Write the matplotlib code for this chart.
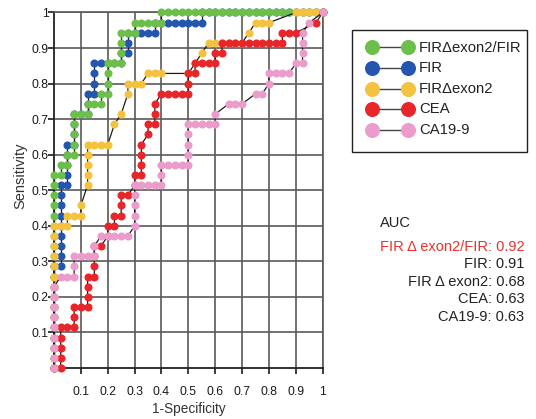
import matplotlib
matplotlib.use('Agg')
import matplotlib.pyplot as plt
import numpy as np
from matplotlib.lines import Line2D
from matplotlib.patches import Rectangle

plt.rcParams['font.family'] = ['Liberation Sans', 'DejaVu Sans']

# ---------------- data ----------------
N_POS = 35   # positives (sensitivity steps)
N_NEG = 40   # negatives (1-specificity steps)

series_names = ["FIR\u0394exon2/FIR", "FIR", "FIR\u0394exon2", "CEA", "CA19-9"]
series_colors = ["#6cc04a", "#2456b0", "#f4c23e", "#e8262a", "#eb9ccb"]
auc_labels = ["FIR \u0394 exon2/FIR", "FIR", "FIR \u0394 exon2", "CEA", "CA19-9"]
auc_values = [0.92, 0.91, 0.68, 0.63, 0.63]

# ROC paths as (dFP, dTP, repeats) run-lengths, one ROC point per step
green_steps = [(0,1,19),(1,0,1),(0,1,1),(1,0,1),(0,1,1),(1,0,1),(0,1,4),(1,0,2),(0,1,1),
               (1,0,2),(0,1,1),(1,0,1),(0,1,3),(1,0,2),(0,1,3),(1,0,2),(0,1,1),(1,0,4),
               (0,1,1),(1,0,24)]
blue_steps = [(0,1,10),(1,0,1),(0,1,8),(1,0,1),(0,1,4),(1,0,1),(0,1,3),(1,0,2),(0,1,2),
              (1,0,1),(0,1,3),(1,0,4),(0,1,1),(1,0,1),(0,1,2),(1,0,4),(0,1,1),(1,0,7),
              (0,1,1),(1,0,18)]
yellow_steps = [(0,1,14),(1,0,2),(0,1,1),(1,0,2),(0,1,1),(1,2,1),(0,1,4),(1,0,3),(1,2,1),
                (1,1,1),(1,2,1),(0,1,1),(1,0,2),(1,1,1),(1,0,2),(4,0,1),(1,1,3),(1,0,5),
                (1,1,2),(1,0,2),(4,1,1),(1,0,4)]
red_steps = [(1,0,1),(0,1,4),(1,0,2),(0,1,2),(1,0,2),(0,1,3),(1,0,1),(0,1,3),(1,0,1),(1,1,1),
             (0,1,1),(1,0,1),(0,1,1),(1,0,1),(0,1,2),(1,0,1),(1,1,1),(0,1,1),(1,0,1),(0,1,3),
             (1,1,1),(0,1,1),(1,0,1),(0,1,2),(1,1,1),(1,0,4),(0,1,2),(1,0,1),(0,1,1),(1,0,3),
             (0,1,1),(1,0,1),(0,1,1),(1,0,9),(0,1,1),(1,0,2),(3,1,1),(1,1,1)]
pink_steps = [(0,1,8),(1,1,1),(1,0,2),(0,1,2),(1,0,3),(0,1,1),(1,1,1),(1,0,4),(1,1,1),(0,1,4),
              (1,0,4),(0,1,2),(1,0,4),(0,1,4),(1,0,4),(0,1,1),(2,1,1),(1,0,2),(2,1,1),(1,0,1),
              (1,1,1),(0,1,1),(1,0,3),(1,1,1),(1,0,1),(0,1,3),(1,1,1),(2,1,1)]

tick_vals = [0.1, 0.2, 0.3, 0.4, 0.5, 0.6, 0.7, 0.8, 0.9, 1.0]
tick_labels = ["0.1", "0.2", "0.3", "0.4", "0.5", "0.6", "0.7", "0.8", "0.9", "1"]


def build(steps):
    fp, tp = [0], [0]
    for dx, dy, n in steps:
        for _ in range(n):
            fp.append(fp[-1] + dx)
            tp.append(tp[-1] + dy)
    return np.array(fp) / N_NEG, np.array(tp) / N_POS


W, H = 536, 419
fig = plt.figure(figsize=(W / 100, H / 100), dpi=100)
ax = fig.add_axes([54 / W, 1 - 368 / H, (322.7 - 54) / W, (368 - 12.5) / H])

all_steps = [green_steps, blue_steps, yellow_steps, red_steps, pink_steps]
zorders = [4, 3, 5, 6, 7]
for steps, c, z in zip(all_steps, series_colors, zorders):
    x, y = build(steps)
    ax.plot(x, y, color="#1a1a1a", lw=0.9, marker="o", ms=4.8,
            mfc=c, mec=c, clip_on=False, zorder=z)

ax.set_xlim(0, 1)
ax.set_ylim(0, 1)
ax.set_xticks(tick_vals)
ax.set_xticklabels(tick_labels)
ax.set_yticks(tick_vals)
ax.set_yticklabels(tick_labels)
ax.grid(True, color="#5a5a5a", lw=1.2)
ax.set_axisbelow(True)
for s in ["top", "right"]:
    ax.spines[s].set_color("#5a5a5a")
    ax.spines[s].set_linewidth(1.2)
for s in ["left", "bottom"]:
    ax.spines[s].set_color("#222222")
    ax.spines[s].set_linewidth(1.3)
ax.tick_params(axis="x", length=4, width=1.2, pad=8.8, labelsize=8.8, colors="#1a1a1a")
ax.tick_params(axis="y", length=4, width=1.2, pad=0, labelsize=8.8, colors="#1a1a1a")

ax.set_xlabel("1-Specificity", fontsize=9.8, color="#333333", labelpad=3)
fig.text(20 / W, 1 - 176 / H, "Sensitivity", rotation=90, fontsize=10.5,
         color="#333333", ha="center", va="center")

# legend (drawn in figure coordinates)
fig.add_artist(Rectangle((351.7 / W, 1 - 151.7 / H), (526.7 - 351.7) / W, (151.7 - 30) / H,
                         transform=fig.transFigure, fill=False, ec="#222222", lw=1.0))
leg_y = [47.5, 68.5, 89.0, 109.0, 129.5]
for name, c, yy in zip(series_names, series_colors, leg_y):
    fig.add_artist(Line2D([371.7 / W, 408.3 / W], [1 - yy / H, 1 - yy / H],
                          transform=fig.transFigure, color="#444444", lw=1.0,
                          marker="o", ms=9.8, mfc=c, mec=c))
    fig.text(419 / W, 1 - yy / H, name, ha="left", va="center", fontsize=10.7,
             color="#222222")

# AUC block
fig.text(380 / W, 1 - 222.7 / H, "AUC", ha="left", va="center", fontsize=10.5, color="#222222")
auc_y = [246.7, 264.0, 281.7, 299.3, 317.3]
for i, (lab, v, yy) in enumerate(zip(auc_labels, auc_values, auc_y)):
    fig.text(524.3 / W, 1 - yy / H, f"{lab}: {v:.2f}", ha="right", va="center",
             fontsize=10.5, color="#e8322c" if i == 0 else "#222222")

fig.savefig("out.png", dpi=100)
